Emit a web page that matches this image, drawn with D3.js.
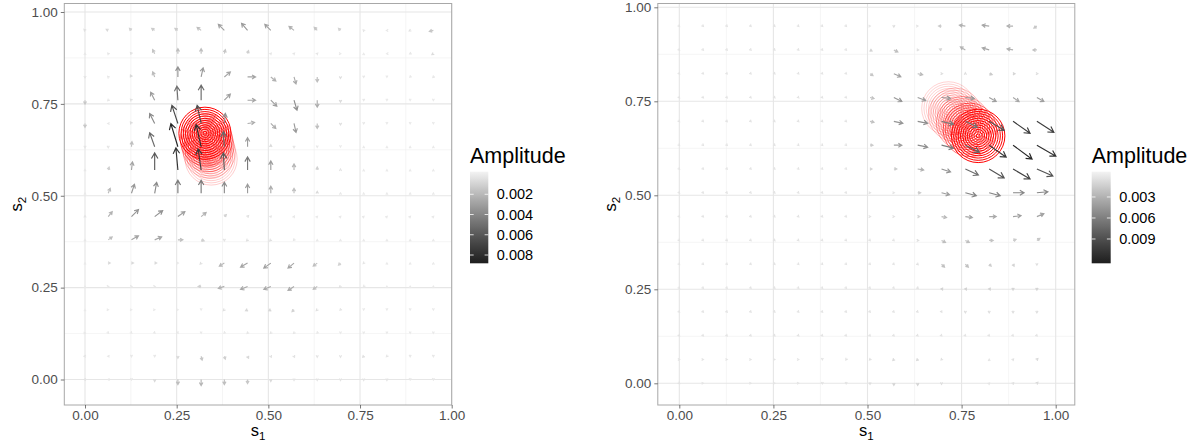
<!DOCTYPE html>
<html><head><meta charset="utf-8">
<script src="https://cdn.jsdelivr.net/npm/d3@7"></script>
<style>
body{margin:0;background:#fff}
svg{display:block}
text{font-family:"Liberation Sans",Arial,Helvetica,sans-serif}
</style>
</head><body>
<svg id="chart" width="1187" height="441"></svg>
<script>
// ---------------- DATA ----------------
// grid of arrow origins (same for s1 and s2)
const gridVals = [0, 0.0633, 0.1267, 0.19, 0.2533, 0.3167, 0.38, 0.4433, 0.5067, 0.57, 0.6333, 0.6967, 0.76, 0.8233, 0.8867, 0.95];
const axisTicks = [0, 0.25, 0.5, 0.75, 1];
const axisTickLabels = ["0.00", "0.25", "0.50", "0.75", "1.00"];
const minorBreaks = [0.125, 0.375, 0.625, 0.875];

// Left panel vector field: rows = s2 index (bottom to top), columns = s1 index
const leftU = [
  [-1,-0.5,0,0,0,0,0,0,0,0,0,0,0,0,0,0],
  [-1,-0.5,0,0,0,1,1,1,0.5,0.5,0,0,-1,-0.5,0,0],
  [0.4,0.3,0.3,0.3,0.2,0,-0.3,-0.5,-0.5,-0.5,-0.3,0,0,0,0,0],
  [0,0.3,0.3,0.3,0.3,0,-1,-2,-2,-2,-1,-0.5,0,0,0,0],
  [0,0.5,0.5,0.5,0,-3,-6,-7,-7,-6,-4,-1,-0.3,0,0,0],
  [0,2,2,2,0.5,-1,-5,-7,-7,-6,-4,-2,-0.5,0,0,0],
  [0,4,7,7,5,3,0,-1,-1,-0.5,0,0,0,0,0,0],
  [0,4,7,8,7,5,2,1,0.5,0.3,0.3,0.3,0.3,0.3,0.3,0.3],
  [0,2,3,2,0,0,0,0,0,0,0,0,0,0,0,0],
  [0,1,1,0,-2,-3,-1,0,0,0,0,0,0,0,0,0],
  [0,0,0.5,-5,-7,-5,-1,0,0,0,0,0,0,0,0,0],
  [0,-0.5,-1,-5,-6,-4,1,7,5,2,0,0,0,0,0,0],
  [0,-0.5,-1,-4,-1,0,6,8,6,3,0,0,0,0,0,0],
  [0,-0.5,-1,-2,0,2,6,8,5,2,0,0,0,0,-0.3,-0.5],
  [0,-0.5,-1,-2,0,0,1,1,0.5,0.5,0.5,0.3,0,-0.3,-0.5,-1.5],
  [-1,-2,-2,-3,-3,-4,-6,-6,-6,-5,-3,-2,-0.5,-0.5,-1,-4]
];
const leftV = [
  [0,0,-0.5,-2,-5,-6,-5,-4,-2,-1,-1,-1,-1,-1,-0.5,-0.5],
  [0,0,-0.5,-0.5,-2,-4,-3,-2,-1,-1,-1,-1,-1,-0.5,-0.5,-0.5],
  [0,-0.3,-0.3,-0.3,-0.3,-0.3,-0.3,-0.5,-0.5,-0.5,-0.3,-0.3,-0.3,-0.3,-0.3,-0.3],
  [0.3,0,0,0,0,-0.3,-1,-1,-1,-2,-1,-0.5,-0.3,-0.3,-0.3,-0.3],
  [0.3,0,0,0,0,0,-2,-3,-3,-4,-3,-1,-0.3,0.3,0.3,0.3],
  [0.3,0,0,0,0,-1,-3,-4,-5,-5,-3,-2,-0.5,0.3,0.3,0.3],
  [0.5,3,4,3,0,-1,-1,-1,-1,-0.5,0.3,0.3,0.3,0.3,0.3,0.3],
  [1,5,7,6,5,4,2,1,0.5,0.5,0.3,0.3,0.3,0.3,0.3,0.3],
  [0.3,5,9,11,13,13,11,9,7,5,2,0.5,0.3,0.3,0.3,0.3],
  [0.5,3,8,17,22,21,17,13,9,6,3,1,0.3,0.3,0.3,0.3],
  [-1,-1,5,14,23,22,15,9,2,-1,-0.5,-0.3,0.3,0.3,0.3,0.3],
  [-4,0,1.5,10,18,18,10,1,-5,-9,-5,-1.5,-0.5,-0.3,-0.3,-0.3],
  [-4,-0.5,1,8,14,15,6,0,-6,-10,-7,-2,-0.5,-0.3,-0.3,-0.3],
  [-1,0.5,2,5,10,9,5,0,-4,-7,-5,-1.5,-0.5,-0.3,-0.3,-0.5],
  [0.5,0.5,1,4,5,5,4,3,0.5,0.5,0.5,0,0.3,0,-0.3,-1],
  [1,1,2,2,2,3,6,7,6,4,3,2,0.5,0,-0.5,-1]
];

// Right panel vector field
const rightU = [
  [0.4,0.3,0,0.3,0.3,0.3,0,0,0,0,0,0,0,0.3,0.6,1],
  [0.4,0.3,0.3,0.3,0.3,0.3,0,-0.3,-0.5,-1,-1,-0.5,0,0,0.5,1],
  [0.3,0.3,0.3,0.3,0.3,0.3,0.3,0.3,0.3,0.3,0.3,0.3,0.3,0.3,0.3,0.3],
  [0.3,0.3,0.3,0.3,0.3,0.3,0.3,0.3,0.3,0.3,0.3,0.3,0,0,0,0],
  [0.3,0.3,0.3,0.3,0.3,0.3,0.3,0.3,0.3,0.3,0.5,1,1,1,0,0],
  [0.3,0.3,0.3,0.3,0.3,0.3,0.3,0.3,0.3,0.3,0.5,3,3,2,1,0],
  [0.3,0.3,0.3,0.3,0.3,0.3,0.3,0.3,0.3,0.3,1,4,4,4,3,3],
  [0.3,0.3,0.3,0.3,0.3,0.3,0.3,0.3,0.5,0.5,2,5,7,7,8,7],
  [0.3,0.3,0.3,0.3,0.3,0.3,0.3,0.3,0.5,0.5,3,8,11,11,11,11],
  [0.3,0.3,0.3,0.3,0.3,0.3,0.3,0.3,2,3,6,9,13,15,17,16],
  [0.3,0.3,0.3,0.3,0.3,0.3,0.3,0.3,3,8,10,12,14,17,19,19],
  [0.3,0.3,0.3,0.3,0.3,0.3,0.3,0.3,4,9,10,12,12,15,17,17],
  [0.3,0.3,0.3,0.3,0.3,0.3,0.3,0.3,4,8,8,9,9,7,6,7],
  [0.3,0.3,0.3,0.3,0.3,0.3,0.3,0.3,3,7,5,1,0,3,2,1],
  [0.3,0.3,0.3,0.3,0.3,0.3,0.3,0.3,2,4,1,-2,-5,-7,-6,-4],
  [0.3,0.3,0.3,0.3,0.3,0.3,0.3,0.3,0.3,0,0.3,-3,-6,-7,-6,-3]
];
const rightV = [
  [-0.3,0,0,0,0,0,-0.5,-0.5,-1,-2,-2,-1,0,0.3,0.6,1],
  [0,0,0,0,0,0,-0.3,-0.5,-0.5,-1,-1,-0.5,0,0.3,0.5,1],
  [-0.3,-0.3,-0.3,-0.3,-0.3,-0.3,-0.3,-0.3,-0.3,-0.3,-0.3,-0.3,-0.3,-0.3,-0.3,-0.3],
  [-0.3,-0.3,-0.3,-0.3,-0.3,-0.3,-0.3,-0.3,-0.3,-0.3,-0.3,-0.5,-1,-1,-1,-1],
  [-0.3,-0.3,-0.3,-0.3,-0.3,-0.3,-0.3,-0.3,-0.3,-0.3,-0.5,-2,-2,-2,-2,-2],
  [-0.3,-0.3,-0.3,-0.3,-0.3,-0.3,-0.3,-0.3,-0.3,-0.3,-0.5,-3,-3,-2,-2,-1],
  [-0.3,-0.3,-0.3,-0.3,-0.3,-0.3,-0.3,-0.3,-0.3,-0.3,0,-2,-2,0,1,2],
  [-0.3,-0.3,-0.3,-0.3,-0.3,-0.3,-0.3,-0.3,0,0,0,-1,-1,0,1,3],
  [-0.3,-0.3,-0.3,-0.3,-0.3,-0.3,-0.3,-0.3,0,0,0,-2,-3,-3,0,1],
  [-0.3,-0.3,-0.3,-0.3,-0.3,-0.3,-0.3,-0.3,0,0,-1,-3,-6,-9,-10,-7],
  [-0.3,-0.3,-0.3,-0.3,-0.3,-0.3,-0.3,-0.3,0,0,-2,-3,-7,-12,-14,-11],
  [-0.3,-0.3,-0.3,-0.3,-0.3,-0.3,-0.3,-0.3,-1,-2,-2,-3,-6,-9,-12,-11],
  [-0.3,-0.3,-0.3,-0.3,-0.3,-0.3,-0.3,-0.3,-1,-4,-3,-1,-1,-4,-4,-4],
  [-0.3,-0.3,-0.3,-0.3,-0.3,-0.3,-0.3,-0.3,-2,-3,-1,0,1,-1,0,0],
  [-0.3,-0.3,-0.3,-0.3,-0.3,-0.3,-0.3,-0.3,-1,-2,0,1,3,2,1,0],
  [-0.3,-0.3,-0.3,-0.3,-0.3,-0.3,-0.3,-0.3,0,-1,0,0,1,1,0,-2]
];

// amplitude per field unit
const leftAmpPerUnit = 0.00035;
const rightAmpPerUnit = 0.00050;

// contour bumps (trail of a moving peak): centre and opacity
const leftBumpX = [0.344, 0.339, 0.335, 0.331, 0.327];
const leftBumpY = [0.600, 0.619, 0.636, 0.652, 0.670];
const leftBumpAlpha = [0.2, 0.28, 0.38, 0.55, 1];
const rightBumpX = [0.715, 0.733, 0.754, 0.772, 0.794];
const rightBumpY = [0.731, 0.714, 0.692, 0.674, 0.658];
const rightBumpAlpha = [0.18, 0.25, 0.35, 0.55, 1];
// contour ring radii (data units)
const ringRadii = [0.071, 0.065, 0.059, 0.053, 0.047, 0.041, 0.035, 0.029, 0.023, 0.017, 0.011, 0.005];

// legend ticks
const leftLegendTicks = [0.002, 0.004, 0.006, 0.008];
const leftLegendLabels = ["0.002", "0.004", "0.006", "0.008"];
const rightLegendTicks = [0.003, 0.006, 0.009];
const rightLegendLabels = ["0.003", "0.006", "0.009"];

// ---------------- DRAW ----------------
const svg = d3.select("#chart");
const lowCol = "#f3f3f3", highCol = "#1e1e1e";

const panels = [
  { U: leftU, V: leftV, amp: leftAmpPerUnit, bx: leftBumpX, by: leftBumpY, ba: leftBumpAlpha,
    lt: leftLegendTicks, ll: leftLegendLabels, ldom: [-0.00023, 0.00882],
    frame: {x0: 64.3, x1: 451.7, y0: 3.5, y1: 405}, xr: [85, 451.7], yr: [379.5, 12],
    leg: {x: 470, y: 171.7, w: 18.3, h: 91.6}, ytitleX: 22 },
  { U: rightU, V: rightV, amp: rightAmpPerUnit, bx: rightBumpX, by: rightBumpY, ba: rightBumpAlpha,
    lt: rightLegendTicks, ll: rightLegendLabels, ldom: [-0.00061, 0.01247],
    frame: {x0: 657.8, x1: 1074.8, y0: 3.5, y1: 405}, xr: [679.3, 1055.7], yr: [383.3, 7.3],
    leg: {x: 1091.7, y: 171.7, w: 19, h: 91.6}, ytitleX: 616 }
];

const defs = svg.append("defs");

panels.forEach((p, pi) => {
  const f = p.frame;
  const x = d3.scaleLinear().domain([0, 1]).range(p.xr);
  const y = d3.scaleLinear().domain([0, 1]).range(p.yr);
  const col = d3.scaleLinear().domain(p.ldom).range([lowCol, highCol]).interpolate(d3.interpolateLab).clamp(true);
  const unitLen = 1 / (p.xr[1] - p.xr[0]); // data length per field unit

  const clipId = "clip" + pi;
  defs.append("clipPath").attr("id", clipId).append("rect")
    .attr("x", f.x0).attr("y", f.y0).attr("width", f.x1 - f.x0).attr("height", f.y1 - f.y0);

  const g = svg.append("g");
  // grid
  const grid = g.append("g");
  minorBreaks.forEach(b => {
    grid.append("line").attr("x1", x(b)).attr("x2", x(b)).attr("y1", f.y0).attr("y2", f.y1)
      .attr("stroke", "#f0f0f0").attr("stroke-width", 0.7);
    grid.append("line").attr("y1", y(b)).attr("y2", y(b)).attr("x1", f.x0).attr("x2", f.x1)
      .attr("stroke", "#f0f0f0").attr("stroke-width", 0.7);
  });
  axisTicks.forEach(b => {
    if (x(b) <= f.x1 + 0.5) grid.append("line").attr("x1", x(b)).attr("x2", x(b)).attr("y1", f.y0).attr("y2", f.y1)
      .attr("stroke", "#e6e6e6").attr("stroke-width", 1.1);
    grid.append("line").attr("y1", y(b)).attr("y2", y(b)).attr("x1", f.x0).attr("x2", f.x1)
      .attr("stroke", "#e6e6e6").attr("stroke-width", 1.1);
  });

  const inner = g.append("g").attr("clip-path", `url(#${clipId})`);

  // contours
  const cg = inner.append("g");
  p.bx.forEach((cx, k) => {
    ringRadii.forEach(r => {
      cg.append("ellipse")
        .attr("cx", x(cx)).attr("cy", y(p.by[k]))
        .attr("rx", x(r) - x(0)).attr("ry", y(0) - y(r))
        .attr("fill", "none").attr("stroke", "#ff0000")
        .attr("stroke-opacity", p.ba[k]).attr("stroke-width", 1);
    });
  });

  // arrows
  const arrows = [];
  gridVals.forEach((sy, j) => {
    gridVals.forEach((sx, i) => {
      const u = p.U[j][i], v = p.V[j][i];
      arrows.push({sx, sy, u, v, a: Math.hypot(u, v) * p.amp});
    });
  });
  arrows.sort((a, b) => a.a - b.a);
  const ag = inner.append("g");
  arrows.forEach(d => {
    const x1 = x(d.sx), y1 = y(d.sy);
    const x2 = x(d.sx + d.u * unitLen), y2 = y(d.sy + d.v * unitLen);
    const L = Math.hypot(x2 - x1, y2 - y1);
    if (L < 0.05) return;
    const ang = Math.atan2(y2 - y1, x2 - x1);
    const h = Math.min(6.5, 2.0 + 0.26 * L);
    const da = Math.PI / 6;
    const hx1 = x2 - h * Math.cos(ang - da), hy1 = y2 - h * Math.sin(ang - da);
    const hx2 = x2 - h * Math.cos(ang + da), hy2 = y2 - h * Math.sin(ang + da);
    ag.append("path")
      .attr("d", `M${x1},${y1}L${x2},${y2}M${hx1},${hy1}L${x2},${y2}L${hx2},${hy2}`)
      .attr("fill", "none").attr("stroke", col(d.a)).attr("stroke-width", 1.15)
      .attr("stroke-linejoin", "miter").attr("stroke-linecap", "butt");
  });

  // frame
  g.append("rect").attr("x", f.x0).attr("y", f.y0).attr("width", f.x1 - f.x0).attr("height", f.y1 - f.y0)
    .attr("fill", "none").attr("stroke", "#a8a8a8").attr("stroke-width", 1);

  // axes
  const xAxis = d3.axisBottom(x).tickValues(axisTicks).tickFormat((d, i) => axisTickLabels[i]).tickSize(3.5).tickPadding(2);
  const xa = g.append("g").attr("transform", `translate(0,${f.y1})`).call(xAxis);
  const yAxis = d3.axisLeft(y).tickValues(axisTicks).tickFormat((d, i) => axisTickLabels[i]).tickSize(3.5).tickPadding(3);
  const ya = g.append("g").attr("transform", `translate(${f.x0},0)`).call(yAxis);
  [xa, ya].forEach(a => {
    a.select(".domain").remove();
    a.selectAll(".tick line").attr("stroke", "#555").attr("stroke-width", 0.8);
    a.selectAll(".tick text").attr("fill", "#4d4d4d").style("font-size", "13.5px")
      .style("font-family", '"Liberation Sans",Arial,sans-serif');
  });

  // axis titles
  const cxm = (f.x0 + f.x1) / 2, cym = (f.y0 + f.y1) / 2;
  const xt = g.append("text").attr("x", cxm).attr("y", 436).attr("text-anchor", "middle")
    .attr("fill", "#000").style("font-size", "16.5px");
  xt.append("tspan").text("s");
  xt.append("tspan").attr("dy", 3.5).style("font-size", "11.5px").text("1");
  const yt = g.append("text").attr("transform", `translate(${p.ytitleX},${cym}) rotate(-90)`)
    .attr("text-anchor", "middle").attr("fill", "#000").style("font-size", "16.5px");
  yt.append("tspan").text("s");
  yt.append("tspan").attr("dy", 3.5).style("font-size", "11.5px").text("2");

  // legend
  const L = p.leg;
  const gid = "grad" + pi;
  const grad = defs.append("linearGradient").attr("id", gid).attr("x1", 0).attr("x2", 0).attr("y1", 0).attr("y2", 1);
  d3.range(0, 1.0001, 0.05).forEach(t => {
    const val = p.ldom[0] + t * (p.ldom[1] - p.ldom[0]);
    grad.append("stop").attr("offset", t).attr("stop-color", col(val));
  });
  g.append("text").attr("x", L.x).attr("y", L.y - 9).attr("fill", "#000").style("font-size", "21.5px").text("Amplitude");
  g.append("rect").attr("x", L.x).attr("y", L.y).attr("width", L.w).attr("height", L.h).attr("fill", `url(#${gid})`);
  const ls = d3.scaleLinear().domain(p.ldom).range([L.y, L.y + L.h]);
  p.lt.forEach((t, k) => {
    const yy = ls(t);
    g.append("line").attr("x1", L.x).attr("x2", L.x + L.w / 5).attr("y1", yy).attr("y2", yy).attr("stroke", "#fff").attr("stroke-width", 0.8);
    g.append("line").attr("x1", L.x + L.w - L.w / 5).attr("x2", L.x + L.w).attr("y1", yy).attr("y2", yy).attr("stroke", "#fff").attr("stroke-width", 0.8);
    g.append("text").attr("x", L.x + L.w + 8.5).attr("y", yy).attr("dy", "0.36em")
      .attr("fill", "#000").style("font-size", "14.5px").text(p.ll[k]);
  });
});
</script>
</body></html>
